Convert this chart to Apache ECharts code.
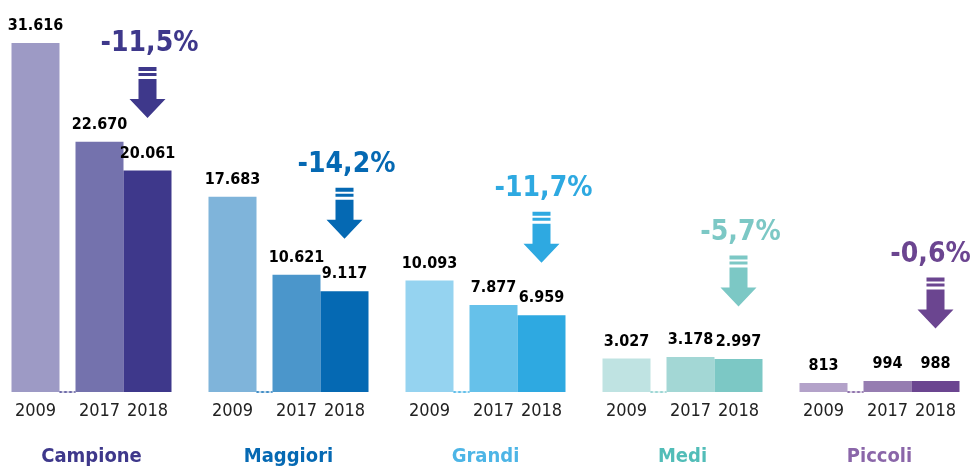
<!DOCTYPE html>
<html>
<head>
<meta charset="utf-8">
<script src="https://cdn.jsdelivr.net/npm/echarts@6/dist/echarts.min.js"></script>
<style>
  html, body { margin: 0; padding: 0; background: #fff; }
  #main { width: 973px; height: 470px; }
</style>
</head>
<body>
<div id="main"></div>
<script>
// dati
const groups = ['Campione', 'Maggiori', 'Grandi', 'Medi', 'Piccoli'];
const years = ['2009', '2017', '2018'];
const v2009 = [31616, 17683, 10093, 3027, 813];
const v2017 = [22670, 10621, 7877, 3178, 994];
const v2018 = [20061, 9117, 6959, 2997, 988];
const changes = ['-11,5%', '-14,2%', '-11,7%', '-5,7%', '-0,6%'];

// colori per gruppo: 2009, 2017, 2018
const shades = [
    ['#9d9ac5', '#7472ad', '#3e388b'],
    ['#7fb4da', '#4b96cb', '#0569b3'],
    ['#95d3f0', '#66c1ea', '#2ea9e1'],
    ['#bfe3e2', '#a3d7d5', '#7cc8c5'],
    ['#b3a2c9', '#967db1', '#6b4590']
];
const nameColors = ['#3e388b', '#0569b3', '#4db5e6', '#52bdb8', '#8a66a9'];

const FONT = "'Liberation Sans Narrow', 'DejaVu Sans Condensed', Roboto, sans-serif";
const ARROW = 'path://M9,0H27V4H9Z M9,6H27V9H9Z M9,12H27V32H36L18,51L0,32H9Z';

const fmt = v => String(v).replace(/\B(?=(\d{3})+(?!\d))/g, '.');

const myChart = echarts.init(document.getElementById('main'));

const valueLabel = {
    show: true,
    position: 'top',
    distance: 9,
    fontFamily: FONT,
    fontWeight: 'bold',
    fontSize: 16,
    color: '#000',
    formatter: p => fmt(p.value)
};

const bars = (vals, k) => vals.map((v, i) => ({ value: v, itemStyle: { color: shades[i][k] } }));

const rich = {
    y: { width: 48, align: 'center', fontFamily: FONT, fontSize: 18, color: '#222', lineHeight: 22 },
    s: { width: 16, align: 'center', lineHeight: 22 }
};
nameColors.forEach((c, i) => {
    rich['n' + i] = { align: 'center', fontFamily: FONT, fontSize: 20, fontWeight: 'bold', color: c, lineHeight: 70 };
});

const option = {
    animation: false,
    grid: { left: -7, right: -5, top: 0, bottom: 78, outerBoundsMode: 'none' },
    xAxis: {
        type: 'category',
        data: groups,
        axisLine: { show: false },
        axisTick: { show: false },
        axisLabel: {
            margin: 8,
            interval: 0,
            formatter: (value, idx) =>
                '{y|' + years[0] + '}{s|}{y|' + years[1] + '}{y|' + years[2] + '}\n{n' + idx + '|' + value + '}',
            rich: rich
        }
    },
    yAxis: { type: 'value', min: 0, max: 35500, show: false, splitLine: { show: false } },
    series: [
        {
            name: years[0], type: 'bar', barWidth: 48, barGap: 0,
            label: valueLabel,
            data: bars(v2009, 0)
        },
        {
            // spazio tra 2009 e 2017 con linea tratteggiata
            name: 'gap', type: 'bar', barWidth: 16, barGap: 0, silent: true,
            data: groups.map((g, i) => ({
                value: 0,
                itemStyle: { color: 'transparent', borderColor: shades[i][2], borderWidth: 1, borderType: [3, 2] }
            }))
        },
        {
            name: years[1], type: 'bar', barWidth: 48, barGap: 0,
            label: valueLabel,
            data: bars(v2017, 1)
        },
        {
            name: years[2], type: 'bar', barWidth: 48, barGap: 0,
            label: valueLabel,
            data: bars(v2018, 2),
            markPoint: {
                symbol: ARROW,
                symbolSize: [36, 51],
                symbolOffset: [0, -78],
                label: {
                    show: true,
                    position: 'top',
                    distance: 9,
                    fontFamily: FONT,
                    fontWeight: 'bold',
                    fontSize: 28,
                    formatter: '{b}'
                },
                data: groups.map((g, i) => ({
                    name: changes[i],
                    coord: [i, v2018[i]],
                    itemStyle: { color: shades[i][2] },
                    label: { color: shades[i][2], offset: [i === 4 ? -5 : 2, 0] }
                }))
            }
        }
    ]
};

myChart.setOption(option);
</script>
</body>
</html>
